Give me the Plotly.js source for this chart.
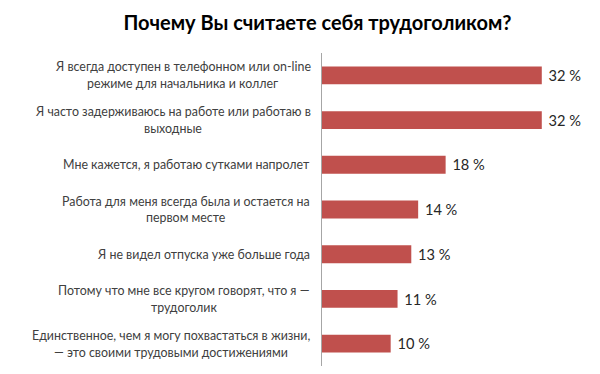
<!DOCTYPE html>
<html>
<head>
<meta charset="utf-8">
<script src="https://cdn.plot.ly/plotly-3.0.1.min.js"></script>
<style>html,body{margin:0;padding:0;background:#fff;}#chart{width:600px;height:374px;}</style>
</head>
<body>
<div id="chart"></div>
<script>
const chartTitle = 'Почему Вы считаете себя трудоголиком?';
const categories = [
  'Я всегда доступен в телефонном или on-line<br>режиме для начальника и коллег',
  'Я часто задерживаюсь на работе или работаю в<br>выходные',
  'Мне кажется, я работаю сутками напролет',
  'Работа для меня всегда была и остается на<br>первом месте',
  'Я не видел отпуска уже больше года',
  'Потому что мне все кругом говорят, что я —<br>трудоголик',
  'Единственное, чем я могу похвастаться в жизни,<br>— это своими трудовыми достижениями'
];
const values = [32, 32, 18, 14, 13, 11, 10];

const labelFont = {family: 'Lato, sans-serif', size: 12.4, color: '#404040'};
const lineGap = 16.8;
const labelPad = 12;

const ctx = document.createElement('canvas').getContext('2d');
ctx.font = labelFont.size + 'px Lato';

const annotations = [];
categories.forEach((c) => {
  const lines = c.split('<br>');
  const maxW = Math.max(...lines.map((s) => ctx.measureText(s).width));
  lines.forEach((s, i) => {
    annotations.push({
      xref: 'paper', yref: 'y', x: 0, y: c,
      xanchor: 'center', yanchor: 'middle',
      xshift: -labelPad - maxW / 2,
      yshift: ((lines.length - 1) / 2 - i) * lineGap,
      text: s, showarrow: false, font: labelFont
    });
  });
});

const trace = {
  type: 'bar',
  orientation: 'h',
  x: values,
  y: categories,
  width: 0.4,
  marker: {color: '#C0504D'},
  texttemplate: '\u00a0%{x} %',
  textposition: 'outside',
  cliponaxis: false,
  textfont: {family: 'Lato, sans-serif', size: 18, color: '#262626'},
  hoverinfo: 'none'
};

const layout = {
  width: 600, height: 374,
  margin: {l: 322, r: 17, t: 53, b: 8},
  paper_bgcolor: '#ffffff', plot_bgcolor: '#ffffff',
  title: {
    text: chartTitle,
    font: {family: 'Lato, sans-serif', size: 20, color: '#000000', weight: 'bold'},
    x: 0.529, xref: 'container', xanchor: 'center',
    yref: 'container', y: 1 - 22.5/374, yanchor: 'middle'
  },
  xaxis: {range: [0, 38], showgrid: false, zeroline: false, showline: false, showticklabels: false, ticks: '', fixedrange: true},
  yaxis: {range: [6.5, -0.5], type: 'category', showgrid: false, zeroline: false, showticklabels: false, ticks: '',
          showline: true, linecolor: '#a6a6a6', linewidth: 1, fixedrange: true},
  showlegend: false,
  annotations: annotations,
  bargap: 0.6
};

Plotly.newPlot('chart', [trace], layout, {displayModeBar: false, staticPlot: true});
</script>
</body>
</html>
